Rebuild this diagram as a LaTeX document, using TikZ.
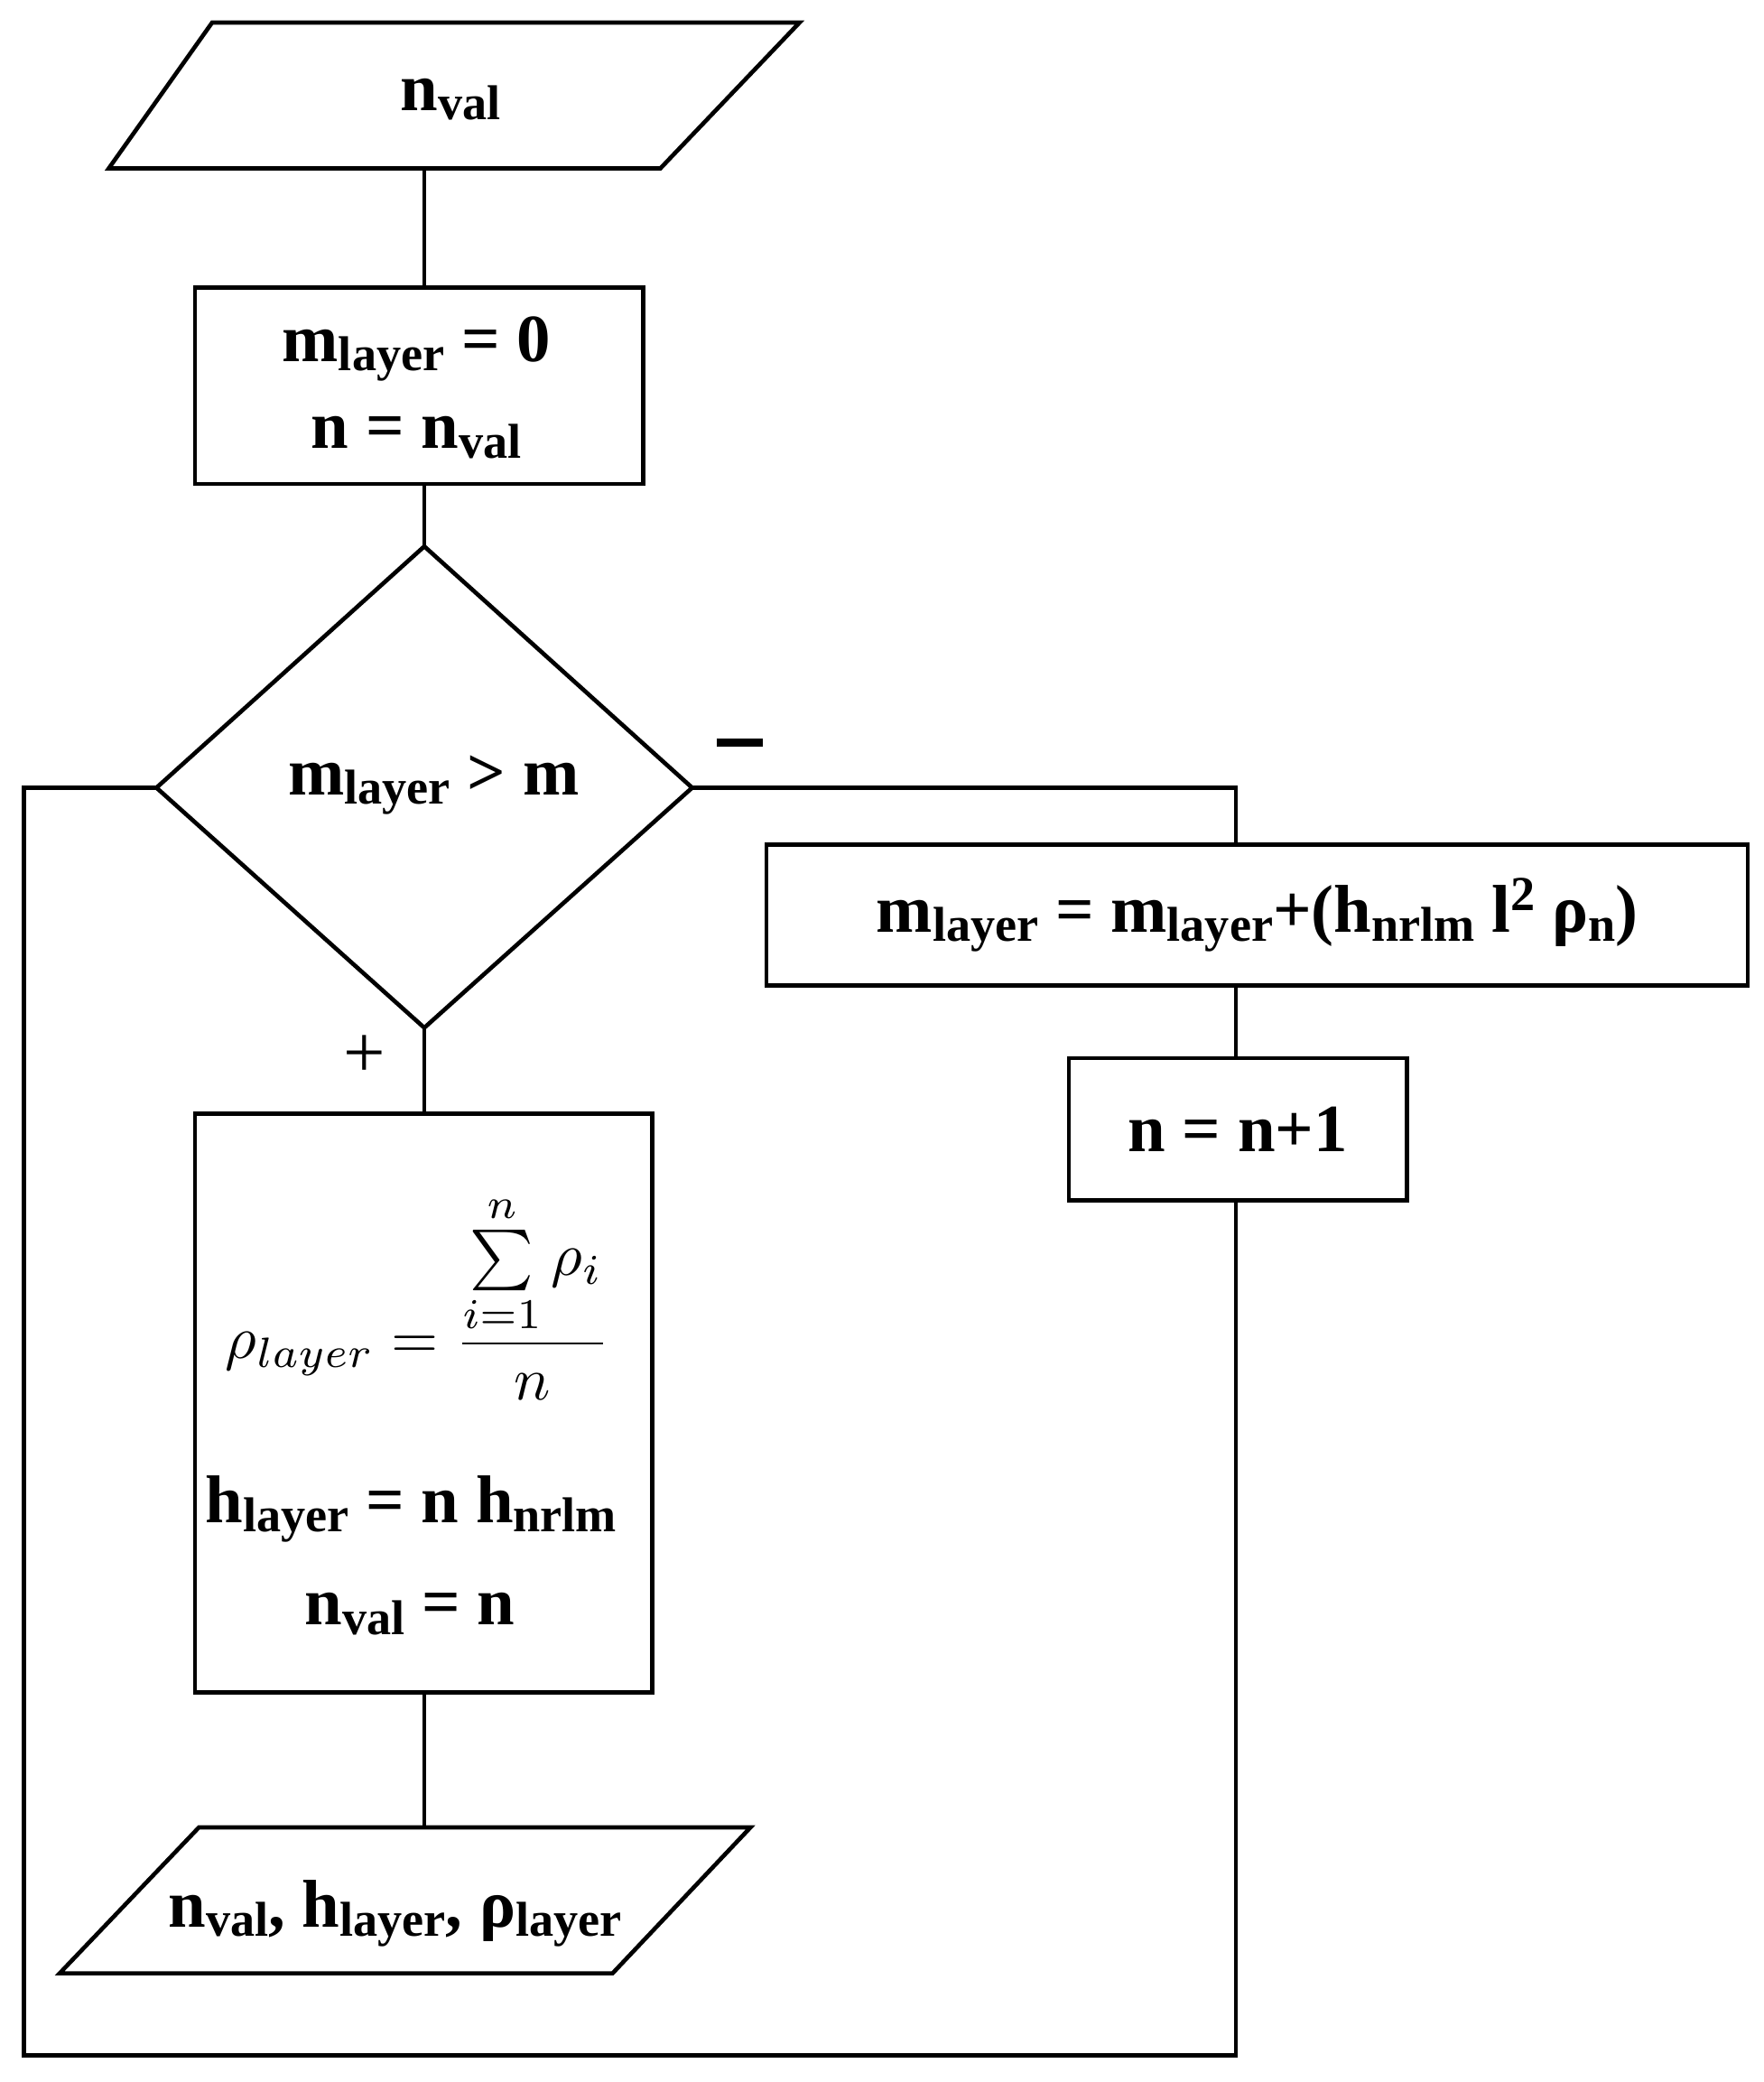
\documentclass[tikz,border=0pt]{standalone}
\usepackage{fontspec}
\setmainfont{Liberation Serif}
\newcommand\lo[1]{\raisebox{-0.3ex}{\fontsize{21}{22}\selectfont #1}}
\newcommand\hi[1]{\raisebox{0.7ex}{\fontsize{21}{22}\selectfont #1}}
\begin{document}
\begin{tikzpicture}[x=0.02cm,y=-0.02cm,line width=1.8pt,
  txt/.style={font=\fontsize{29}{34}\selectfont\bfseries,align=center,inner sep=0pt},
  box/.style={draw,line width=1.8pt}]
\useasboundingbox (0,0) rectangle (1330,1570);
% top parallelogram
\draw (160,17) -- (603,17) -- (498,127) -- (82,127) -- cycle;
\node[txt] (in) at (340,75) {n\lo{val}};
\coordinate (inb) at (320,127);
% box1
\node[box,minimum width=338*0.02cm,minimum height=148*0.02cm] (b1) at (316,291) {};
\node[txt] at (314,263) {m\lo{layer} = 0};
\node[txt] at (314,330) {n = n\lo{val}};
\coordinate (b1t) at (320,217);\coordinate (b1b) at (320,365);
% diamond
\draw (320,412) -- (522,594) -- (320,775) -- (118,594) -- cycle;
\coordinate (dt) at (320,412);\coordinate (dr) at (522,594);\coordinate (db) at (320,775);\coordinate (dl) at (118,594);
\node[txt] (dc) at (327,592) {m\lo{layer} > m};
\node[font=\fontsize{30}{32}\selectfont\bfseries] (minus) at (558,560) {\rule{0.7cm}{3.5pt}};
\node[font=\fontsize{32}{34}\selectfont] (plus) at (275,797) {+};
% box2
\node[box,minimum width=740*0.02cm,minimum height=106*0.02cm,txt,draw] (b2) at (948,690) {m\lo{layer} = m\lo{layer}+(h\lo{nrlm} l\hi{2} ρ\lo{n})};
% box3
\node[box,minimum width=255*0.02cm,minimum height=107*0.02cm,txt,draw] (b3) at (933.5,851.5) {n = n+1};
% box4
\node[box,minimum width=345*0.02cm,minimum height=436*0.02cm] (b4) at (319.5,1058) {};
\node[inner sep=0pt] at (315,978) {\scalebox{2.6}{$\displaystyle \rho_{layer}=\frac{\sum\limits_{i=1}^{n}\rho_i}{n}$}};
\node[txt] at (310,1138) {h\lo{layer} = n h\lo{nrlm}};
\node[txt] at (309,1217) {n\lo{val} = n};
% bottom parallelogram
\draw (150,1378) -- (566,1378) -- (462,1488) -- (45,1488) -- cycle;
\node[txt] (out) at (298,1443) {n\lo{val}, h\lo{layer}, ρ\lo{layer}};
\coordinate (outt) at (320,1378);
% connectors
\coordinate (c1) at (932,594);
\coordinate (b2t) at (932,637);\coordinate (b2b) at (932,743);
\coordinate (b3t) at (932,798);\coordinate (b3b) at (932,905);
\coordinate (c2) at (932,1550);\coordinate (c3) at (18,1550);\coordinate (c4) at (18,594);
\draw (inb) -- (b1t);
\draw (b1b) -- (dt);
\draw (db) -- (320,840);
\draw (320,1276) -- (outt);
\draw (dr) -- (c1) -- (b2t);
\draw (b2b) -- (b3t);
\draw (b3b) -- (c2) -- (c3) -- (c4) -- (dl);
\end{tikzpicture}
\end{document}
